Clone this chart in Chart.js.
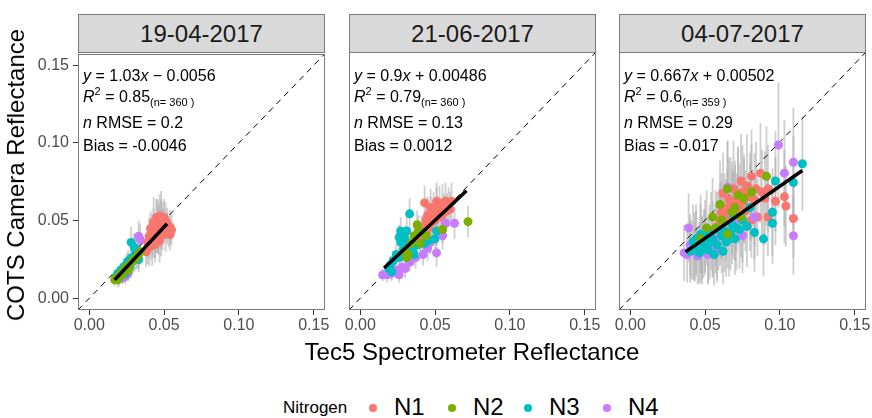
<!DOCTYPE html>
<html>
<head>
<meta charset="utf-8">
<script src="https://cdn.jsdelivr.net/npm/chart.js@4.4.0/dist/chart.umd.min.js"></script>
<style>
    body { margin: 0; width: 872px; height: 418px; background: #fff; position: relative; overflow: hidden; font-family: Arial, "Liberation Sans", sans-serif; }
    canvas { position: absolute; }
    .strip { position: absolute; top: 14px; height: 37px; width: 245px; background: #d9d9d9; border: 1px solid #7a7a7a; text-align: center; line-height: 38px; font-size: 24px; color: #1a1a1a; }
    .ann { position: absolute; font-size: 16px; line-height: 18px; color: #000; white-space: nowrap; }
    .ann sup { font-size: 11px; vertical-align: 7px; line-height: 0; }
    .ann sub { font-size: 11px; vertical-align: -4px; line-height: 0; }
    .title { position: absolute; font-size: 24px; color: #000; white-space: nowrap; }
    .leg { position: absolute; white-space: nowrap; color: #000; }
    .dot { position: absolute; width: 8px; height: 8px; border-radius: 50%; }
</style>
</head>
<body>

<script>
// Datum för varje panel
const dates = ['19-04-2017', '21-06-2017', '04-07-2017']
const nitrogen = ['N1', 'N2', 'N3', 'N4']
const colors = ['#F8766D', '#7CAE00', '#00BFC4', '#C77CFF']
const ticks = [0, 0.05, 0.10, 0.15]

// Texter i panelerna
const equations = ['<i>y</i> = 1.03<i>x</i> \u2212 0.0056', '<i>y</i> = 0.9<i>x</i> + 0.00486', '<i>y</i> = 0.667<i>x</i> + 0.00502']
const r2 = ['0.85', '0.79', '0.6']
const nObs = ['360', '360', '359']
const nrmse = ['0.2', '0.13', '0.29']
const bias = ['-0.0046', '0.0012', '-0.017']

// Regressionslinjer: [x1, y1, x2, y2]
const fitLines = [
    [0.017, 0.0119, 0.052, 0.048],
    [0.016, 0.0193, 0.071, 0.0688],
    [0.037, 0.0297, 0.115, 0.0817]
]

// Punkter: [tec5, kamera, felstapel]
const apr_N1 = [[0.038,0.030,0.010],[0.040,0.033,0.012],[0.041,0.036,0.011],[0.042,0.034,0.013],[0.043,0.038,0.012],[0.044,0.040,0.014],[0.045,0.042,0.013],[0.046,0.044,0.015],[0.047,0.046,0.014],[0.048,0.048,0.016],[0.046,0.050,0.013],[0.045,0.052,0.012],[0.047,0.053,0.014],[0.049,0.050,0.012],[0.050,0.047,0.011],[0.052,0.045,0.010],[0.053,0.043,0.010],[0.051,0.042,0.012],[0.049,0.044,0.013],[0.043,0.046,0.012],[0.042,0.043,0.011],[0.040,0.040,0.012],[0.039,0.036,0.010],[0.044,0.035,0.012],[0.048,0.040,0.013],[0.050,0.052,0.012],[0.041,0.045,0.011],[0.052,0.048,0.010],[0.045,0.047,0.017],[0.043,0.049,0.016],[0.054,0.041,0.010],[0.047,0.037,0.014],[0.055,0.044,0.010],[0.054,0.046,0.011],[0.051,0.050,0.012],[0.048,0.052,0.017],[0.046,0.041,0.013],[0.044,0.043,0.012],[0.042,0.040,0.012],[0.039,0.032,0.010]]
const apr_N2 = [[0.017,0.012,0.004],[0.018,0.013,0.004],[0.019,0.012,0.005],[0.020,0.014,0.005],[0.021,0.016,0.006],[0.022,0.015,0.005],[0.023,0.018,0.006],[0.024,0.019,0.006],[0.025,0.020,0.007],[0.027,0.022,0.007],[0.029,0.024,0.008],[0.031,0.026,0.008],[0.033,0.028,0.009],[0.034,0.030,0.008],[0.026,0.018,0.006]]
const apr_N3 = [[0.018,0.014,0.004],[0.019,0.016,0.005],[0.020,0.013,0.005],[0.021,0.018,0.005],[0.022,0.017,0.006],[0.023,0.020,0.006],[0.024,0.016,0.005],[0.025,0.022,0.007],[0.026,0.024,0.007],[0.028,0.026,0.008],[0.030,0.025,0.008],[0.028,0.036,0.010],[0.030,0.033,0.009],[0.031,0.031,0.009],[0.027,0.020,0.007],[0.032,0.027,0.008],[0.033,0.025,0.008]]
const apr_N4 = [[0.033,0.040,0.010],[0.034,0.038,0.010],[0.024,0.014,0.005],[0.026,0.016,0.005],[0.022,0.013,0.004]]

const jun_N1 = [[0.041,0.038,0.009],[0.042,0.043,0.010],[0.043,0.046,0.010],[0.044,0.050,0.011],[0.045,0.053,0.012],[0.046,0.048,0.012],[0.047,0.052,0.013],[0.049,0.055,0.013],[0.051,0.057,0.014],[0.053,0.059,0.013],[0.055,0.061,0.012],[0.057,0.062,0.012],[0.059,0.060,0.011],[0.060,0.057,0.011],[0.056,0.055,0.012],[0.052,0.053,0.012],[0.048,0.049,0.011],[0.046,0.045,0.010],[0.050,0.050,0.012],[0.054,0.052,0.011],[0.044,0.041,0.010],[0.043,0.061,0.011],[0.051,0.062,0.012],[0.047,0.058,0.012],[0.058,0.056,0.011],[0.061,0.062,0.012],[0.041,0.043,0.010]]
const jun_N2 = [[0.072,0.049,0.010],[0.055,0.044,0.009],[0.039,0.043,0.010],[0.038,0.047,0.009],[0.036,0.040,0.008],[0.034,0.035,0.008],[0.042,0.042,0.009],[0.030,0.030,0.007],[0.031,0.026,0.006],[0.032,0.028,0.007],[0.040,0.035,0.008],[0.044,0.040,0.009]]
const jun_N3 = [[0.033,0.054,0.010],[0.027,0.043,0.009],[0.031,0.043,0.009],[0.026,0.039,0.008],[0.027,0.036,0.008],[0.030,0.038,0.008],[0.032,0.033,0.008],[0.035,0.030,0.007],[0.029,0.031,0.007],[0.024,0.028,0.007],[0.022,0.024,0.006],[0.020,0.021,0.006],[0.019,0.019,0.005],[0.021,0.017,0.005],[0.038,0.034,0.008],[0.050,0.038,0.009],[0.051,0.043,0.009],[0.046,0.037,0.008],[0.036,0.028,0.007],[0.026,0.026,0.007],[0.043,0.035,0.008]]
const jun_N4 = [[0.063,0.048,0.010],[0.057,0.048,0.009],[0.051,0.029,0.009],[0.045,0.032,0.008],[0.042,0.028,0.007],[0.037,0.026,0.007],[0.033,0.023,0.006],[0.028,0.020,0.006],[0.024,0.018,0.005],[0.021,0.016,0.005],[0.018,0.015,0.005],[0.015,0.015,0.004],[0.026,0.015,0.005],[0.030,0.019,0.006],[0.047,0.036,0.008],[0.055,0.040,0.009]]

const jul_N1 = [[0.081,0.078,0.030],[0.087,0.080,0.032],[0.067,0.062,0.028],[0.072,0.067,0.030],[0.061,0.055,0.025],[0.092,0.052,0.025],[0.097,0.062,0.028],[0.104,0.059,0.026],[0.109,0.051,0.025],[0.103,0.065,0.030],[0.075,0.068,0.030],[0.070,0.062,0.026],[0.068,0.060,0.027],[0.065,0.058,0.025],[0.063,0.055,0.025],[0.073,0.060,0.026],[0.076,0.062,0.027],[0.080,0.065,0.028],[0.084,0.070,0.030],[0.088,0.068,0.027],[0.085,0.052,0.025],[0.060,0.050,0.024],[0.058,0.046,0.022],[0.071,0.055,0.025],[0.077,0.056,0.026],[0.092,0.070,0.028],[0.066,0.063,0.027],[0.062,0.067,0.026],[0.074,0.075,0.030],[0.081,0.050,0.024],[0.069,0.070,0.031],[0.078,0.072,0.033],[0.083,0.063,0.030],[0.064,0.050,0.026],[0.090,0.064,0.030]]
const jul_N2 = [[0.065,0.070,0.030],[0.081,0.068,0.030],[0.091,0.078,0.032],[0.061,0.050,0.025],[0.074,0.052,0.026],[0.051,0.045,0.024],[0.065,0.041,0.022],[0.057,0.045,0.024],[0.070,0.058,0.027],[0.076,0.064,0.028],[0.047,0.038,0.022],[0.060,0.060,0.028],[0.055,0.052,0.025],[0.068,0.055,0.027],[0.072,0.066,0.030]]
const jul_N3 = [[0.115,0.086,0.030],[0.109,0.074,0.030],[0.097,0.075,0.032],[0.095,0.055,0.028],[0.089,0.038,0.024],[0.083,0.042,0.025],[0.095,0.048,0.026],[0.040,0.030,0.020],[0.043,0.033,0.022],[0.046,0.029,0.020],[0.049,0.035,0.022],[0.052,0.031,0.021],[0.055,0.038,0.024],[0.058,0.034,0.022],[0.061,0.040,0.024],[0.064,0.036,0.022],[0.067,0.042,0.024],[0.070,0.038,0.023],[0.073,0.044,0.025],[0.056,0.028,0.020],[0.050,0.040,0.023],[0.062,0.030,0.021],[0.068,0.047,0.025],[0.078,0.046,0.026],[0.044,0.038,0.022],[0.042,0.036,0.024],[0.047,0.041,0.025],[0.053,0.036,0.024],[0.059,0.044,0.026],[0.063,0.043,0.026],[0.066,0.038,0.024],[0.071,0.045,0.027],[0.075,0.050,0.027],[0.054,0.043,0.025],[0.048,0.031,0.022],[0.069,0.053,0.028],[0.080,0.058,0.028]]
const jul_N4 = [[0.099,0.098,0.040],[0.109,0.087,0.035],[0.103,0.080,0.034],[0.109,0.040,0.025],[0.039,0.045,0.022],[0.065,0.071,0.030],[0.083,0.052,0.027],[0.036,0.029,0.018],[0.038,0.028,0.018],[0.041,0.031,0.019],[0.045,0.027,0.018],[0.048,0.032,0.020],[0.052,0.028,0.019],[0.055,0.033,0.020],[0.058,0.030,0.020],[0.044,0.035,0.021],[0.060,0.043,0.022],[0.070,0.049,0.025],[0.075,0.040,0.024],[0.040,0.034,0.020],[0.047,0.029,0.019],[0.050,0.036,0.021],[0.043,0.030,0.019],[0.057,0.038,0.022]]

const panelData = [
    [apr_N1, apr_N2, apr_N3, apr_N4],
    [jun_N1, jun_N2, jun_N3, jun_N4],
    [jul_N1, jul_N2, jul_N3, jul_N4]
]

// Placering av panelerna (vänsterkant på sidan)
const panelLeft = [78, 349, 619]
const panelW = 247
const panelH = 258
const panelTop = 52
const yAxisW = 50
const padTop = 12
const padRight = 25
const xAxisH = 30
const lim = [-0.0075, 0.1575]

// Ritar felstaplar och panelram
const errorBarPlugin = {
    id: 'errorBars',
    beforeDatasetsDraw(chart) {
        const ctx = chart.ctx
        const area = chart.chartArea
        const xs = chart.scales.x
        const ys = chart.scales.y
        ctx.save()
        ctx.beginPath()
        ctx.rect(area.left, area.top, area.width, area.height)
        ctx.clip()
        ctx.strokeStyle = 'rgba(175,175,175,0.6)'
        ctx.lineWidth = 1.8
        chart.data.datasets.forEach((ds) => {
            if (!ds.errs) return
            ds.data.forEach((p, i) => {
                const px = xs.getPixelForValue(p.x)
                ctx.beginPath()
                ctx.moveTo(px, ys.getPixelForValue(p.y - ds.errs[i]))
                ctx.lineTo(px, ys.getPixelForValue(p.y + ds.errs[i]))
                ctx.stroke()
            })
        })
        ctx.restore()
    },
    afterDraw(chart) {
        const ctx = chart.ctx
        const a = chart.chartArea
        ctx.save()
        ctx.strokeStyle = '#7a7a7a'
        ctx.lineWidth = 1
        ctx.strokeRect(Math.round(a.left) + 0.5, Math.round(a.top) + 0.5, Math.round(a.width) - 1, Math.round(a.height) - 1)
        ctx.restore()
    }
}

function makePanel(p) {
    const first = p === 0
    const canvas = document.createElement('canvas')
    canvas.width = yAxisW + panelW + padRight
    canvas.height = padTop + panelH + xAxisH
    canvas.style.left = (panelLeft[p] - yAxisW) + 'px'
    canvas.style.top = (panelTop - padTop) + 'px'
    document.body.appendChild(canvas)

    const datasets = []
    // Regressionslinje överst
    const f = fitLines[p]
    datasets.push({
        data: [{ x: f[0], y: f[1] }, { x: f[2], y: f[3] }],
        showLine: true,
        borderColor: '#000',
        borderWidth: 3.5,
        pointRadius: 0,
        order: 0
    })
    panelData[p].forEach((pts, k) => {
        datasets.push({
            label: nitrogen[k],
            data: pts.map((d) => ({ x: d[0], y: d[1] })),
            errs: pts.map((d) => d[2]),
            backgroundColor: colors[k],
            borderWidth: 0,
            pointRadius: 4.5,
            order: 1 + (k === 0 ? 3 : k - 1)
        })
    })
    // 1:1-linje
    datasets.push({
        data: [{ x: lim[0], y: lim[0] }, { x: lim[1], y: lim[1] }],
        showLine: true,
        borderColor: '#000',
        borderWidth: 1,
        borderDash: [6, 5],
        pointRadius: 0,
        order: 10
    })

    const tickFont = { family: 'Arial, "Liberation Sans", sans-serif', size: 16 }
    new Chart(canvas, {
        type: 'scatter',
        data: { datasets: datasets },
        options: {
            responsive: false,
            animation: false,
            layout: { padding: { left: 0, right: padRight, top: padTop, bottom: 0 } },
            plugins: { legend: { display: false }, tooltip: { enabled: false } },
            scales: {
                x: {
                    type: 'linear',
                    min: lim[0],
                    max: lim[1],
                    afterBuildTicks: (s) => { s.ticks = ticks.map((v) => ({ value: v })) },
                    afterFit: (s) => { s.height = xAxisH },
                    border: { display: false },
                    grid: { drawOnChartArea: false, drawTicks: true, tickLength: 5, tickColor: '#333', lineWidth: 1 },
                    ticks: { color: '#4d4d4d', font: tickFont, padding: 1, maxRotation: 0, callback: (v) => v.toFixed(2) }
                },
                y: {
                    type: 'linear',
                    min: lim[0],
                    max: lim[1],
                    afterBuildTicks: (s) => { s.ticks = ticks.map((v) => ({ value: v })) },
                    afterFit: (s) => { s.width = yAxisW },
                    border: { display: false },
                    grid: { display: first, drawOnChartArea: false, drawTicks: true, tickLength: 5, tickColor: '#333', lineWidth: 1 },
                    ticks: { display: first, color: '#4d4d4d', font: tickFont, padding: 4, callback: (v) => v.toFixed(2) }
                }
            }
        },
        plugins: [errorBarPlugin]
    })

    // Rubrikremsa
    const strip = document.createElement('div')
    strip.className = 'strip'
    strip.style.left = panelLeft[p] + 'px'
    strip.textContent = dates[p]
    document.body.appendChild(strip)

    // Statistik i panelen
    const lines = [
        equations[p],
        '<i>R</i><sup>2</sup> = ' + r2[p] + '<sub>(n= ' + nObs[p] + ' )</sub>',
        '<i>n</i> RMSE = ' + nrmse[p],
        'Bias = ' + bias[p]
    ]
    const tops = [67, 88, 114, 137]
    lines.forEach((t, i) => {
        const d = document.createElement('div')
        d.className = 'ann'
        d.style.left = (panelLeft[p] + 5) + 'px'
        d.style.top = tops[i] + 'px'
        d.innerHTML = t
        document.body.appendChild(d)
    })
}

for (let p = 0; p < 3; p++) makePanel(p)

// Axeltitlar
const yTitle = document.createElement('div')
yTitle.className = 'title'
yTitle.textContent = 'COTS Camera Reflectance'
yTitle.style.left = '16px'
yTitle.style.top = '175px'
yTitle.style.transform = 'translate(-50%, -50%) rotate(-90deg)'
document.body.appendChild(yTitle)

const xTitle = document.createElement('div')
xTitle.className = 'title'
xTitle.textContent = 'Tec5 Spectrometer Reflectance'
xTitle.style.left = '472px'
xTitle.style.top = '352px'
xTitle.style.transform = 'translate(-50%, -50%)'
document.body.appendChild(xTitle)

// Teckenförklaring
const legTitle = document.createElement('div')
legTitle.className = 'leg'
legTitle.textContent = 'Nitrogen'
legTitle.style.cssText += 'left:283px;top:398px;font-size:17px;line-height:20px;'
document.body.appendChild(legTitle)

const dotX = [369, 448, 524, 603]
nitrogen.forEach((n, k) => {
    const dot = document.createElement('div')
    dot.className = 'dot'
    dot.style.left = dotX[k] + 'px'
    dot.style.top = '404px'
    dot.style.background = colors[k]
    document.body.appendChild(dot)
    const lab = document.createElement('div')
    lab.className = 'leg'
    lab.textContent = n
    lab.style.cssText += 'left:' + (dotX[k] + 25) + 'px;top:394px;font-size:24px;line-height:26px;'
    document.body.appendChild(lab)
})
</script>
</body>
</html>
